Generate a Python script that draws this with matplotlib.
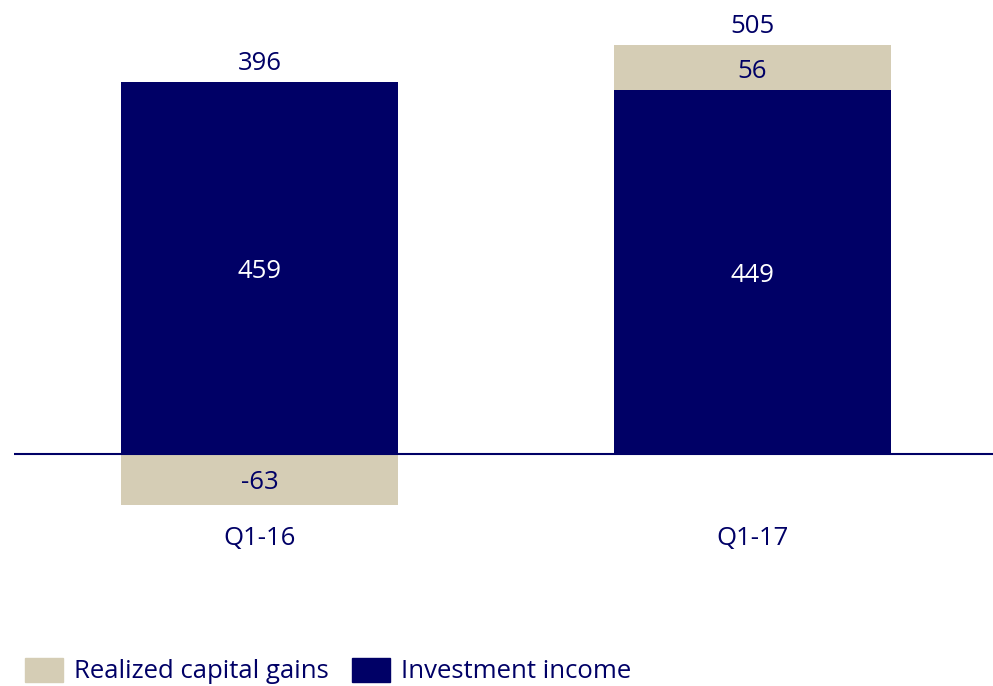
import matplotlib
matplotlib.use("Agg")
import matplotlib.pyplot as plt
from matplotlib.patches import Patch

categories = ["Q1-16", "Q1-17"]
investment_income = [459, 449]
realized_gains = [-63, 56]
totals = [396, 505]

NAVY = "#000066"
BEIGE = "#D5CDB5"
plt.rcParams['font.family'] = ['Open Sans', 'DejaVu Sans']
FS = 18.5

W, H = 993, 686
fig = plt.figure(figsize=(W/100, H/100), dpi=100)
ax_left, ax_right = 14, 993
ax_top, ax_bot = 20, 540
ax = fig.add_axes([ax_left/W, 1-ax_bot/H, (ax_right-ax_left)/W, (ax_bot-ax_top)/H])
scale = 409/505.0
ax.set_ylim(-(ax_bot-454)/scale, (454-ax_top)/scale)
ax.set_xlim(-0.4985, 1.489)

x = list(range(len(categories)))
bw = 0.5625
ax.bar(x, investment_income, width=bw, color=NAVY, zorder=2)
bottoms = [inv if g > 0 else 0 for inv, g in zip(investment_income, realized_gains)]
ax.bar(x, realized_gains, width=bw, bottom=bottoms, color=BEIGE, zorder=2)
ax.axhline(0, color=NAVY, lw=1.5, zorder=3)

for i in x:
    inv = investment_income[i]
    g = realized_gains[i]
    ax.annotate(str(inv), (i, inv/2), xytext=(0, -2.5), textcoords='offset points',
                ha='center', va='center', color='white', fontsize=FS)
    gb = bottoms[i]
    ax.annotate(str(g), (i, gb + g/2), xytext=(0, -2.5), textcoords='offset points',
                ha='center', va='center', color=NAVY, fontsize=FS)
    top = max(inv, inv + g)
    ax.annotate(str(totals[i]), (i, top), xytext=(0, 13.5), textcoords='offset points',
                ha='center', va='center', color=NAVY, fontsize=FS)
    ax.annotate(categories[i], (i, 0), xytext=(0, -60.5), textcoords='offset points',
                ha='center', va='center', color=NAVY, fontsize=FS)

ax.axis('off')

handles = [Patch(color=BEIGE, label="Realized capital gains"), Patch(color=NAVY, label="Investment income")]
leg = fig.legend(handles=handles, loc='center left', bbox_to_anchor=(25/W, 1-671/H), ncol=2,
                 frameon=False, fontsize=FS, handlelength=1.48, handleheight=1.09,
                 handletextpad=0.43, columnspacing=0.9, labelcolor=NAVY, borderaxespad=0, borderpad=0)

fig.savefig("out.png", dpi=100)
